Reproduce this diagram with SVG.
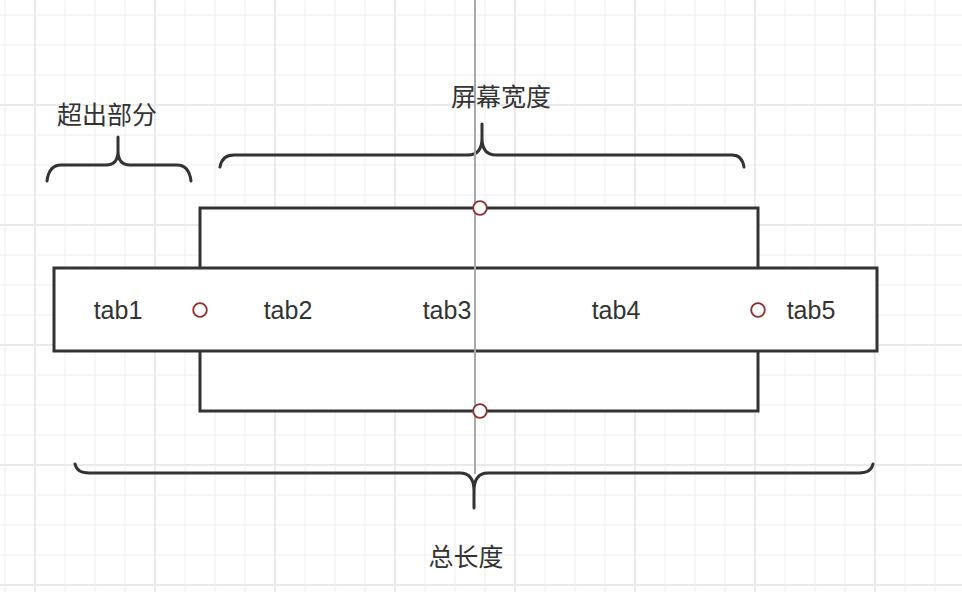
<svg xmlns="http://www.w3.org/2000/svg" width="962" height="592" viewBox="0 0 962 592">
<style>
.box{fill:#fff;stroke:#333;stroke-width:3}
.brace{fill:none;stroke:#333;stroke-width:3;stroke-linecap:round;stroke-linejoin:round}
.tab{font-family:"Liberation Sans",Arial,sans-serif;font-size:25px;fill:#333;text-anchor:middle}
.cn{font-family:"Liberation Sans","Noto Sans CJK SC",sans-serif;font-size:25px;fill:#333;text-anchor:middle}
.pt{fill:#fff;stroke:#8b2e2e;stroke-width:1.8}
.axis{stroke:#a8a8a8;stroke-width:2}
</style>
<defs>
<pattern id="minor" patternUnits="userSpaceOnUse" x="4.5" y="14.5" width="30" height="30">
<rect x="0" y="0" width="1.2" height="30" fill="#f0f0f0"/>
<rect x="0" y="0" width="30" height="1.2" fill="#f0f0f0"/>
</pattern>
<pattern id="major" patternUnits="userSpaceOnUse" x="34" y="104" width="120" height="120">
<rect x="0" y="0" width="1.8" height="120" fill="#e9e9e9"/>
<rect x="0" y="0" width="120" height="1.8" fill="#e9e9e9"/>
</pattern>
</defs>
<rect width="962" height="592" fill="#fff"/>
<rect width="962" height="592" fill="url(#minor)"/>
<rect width="962" height="592" fill="url(#major)"/>
<g id="connectors">
<path class="brace" d="M47,181 Q49,165 61,165 L106,165 Q118,165 118,151 L118,137 M118,151 Q118,165 130,165 L177,165 Q189,165 191,181"/>
<path class="brace" d="M220,167 Q222,155 234,155 L468,155 Q482,155 482,138 L482,124 M482,138 Q482,155 496,155 L732,155 Q742,155 744,167"/>
<path class="brace" d="M75,464 Q77,473 89,473 L460,473 Q474,473 474,491 L474,508 M474,491 Q474,473 488,473 L859,473 Q871,473 873,464"/>
</g>
<g id="screen"><rect class="box" x="200" y="208" width="558" height="203"/></g>
<g id="tabbar"><rect class="box" x="54" y="268" width="823" height="83"/></g>
<g id="tab1"><text class="tab" x="118" y="319">tab1</text></g>
<g id="tab2"><text class="tab" x="288" y="319">tab2</text></g>
<g id="tab3"><text class="tab" x="447" y="319">tab3</text></g>
<g id="tab4"><text class="tab" x="616" y="319">tab4</text></g>
<g id="tab5"><text class="tab" x="811" y="319">tab5</text></g>
<g id="centerline"><line class="axis" x1="475" y1="0" x2="475" y2="474"/></g>
<g id="points">
<circle class="pt" cx="480" cy="208" r="6.8"/>
<circle class="pt" cx="480" cy="411" r="6.8"/>
<circle class="pt" cx="200" cy="310" r="6.8"/>
<circle class="pt" cx="758" cy="310" r="6.8"/>
</g>
<g id="label-overflow"><text class="cn" x="107" y="124">超出部分</text></g>
<g id="label-screen"><text class="cn" x="501" y="106">屏幕宽度</text></g>
<g id="label-total"><text class="cn" x="466" y="566">总长度</text></g>
</svg>
